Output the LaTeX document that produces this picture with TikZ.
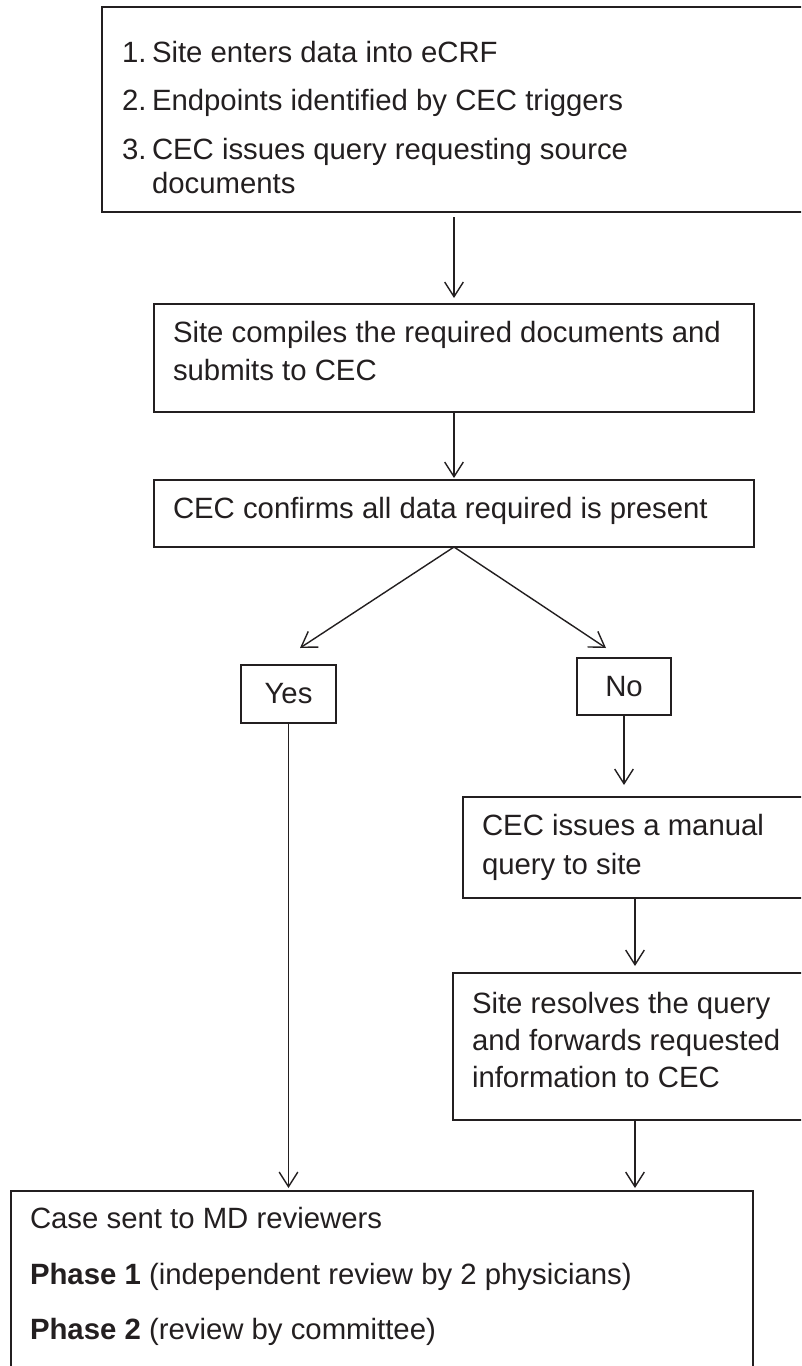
\documentclass[tikz,border=0pt]{standalone}
\usepackage{fontspec}
\setmainfont{Liberation Sans}
\usetikzlibrary{arrows.meta}
\definecolor{ink}{HTML}{231F20}
\begin{document}
\begin{tikzpicture}[x=0.75pt,y=-0.75pt,
  every node/.style={font=\fontsize{22}{28}\selectfont, text=ink, inner sep=0pt, outer sep=0pt},
  frame/.style={draw=ink, line width=1.1pt, anchor=north west, rectangle},
  txt/.style={anchor=base west},
  arr/.style={draw=ink, line width=1.05pt, -{Straight Barb[length=11pt,width=14pt,line width=1.05pt]}}]
\clip (0,0) rectangle (801,1366);
\useasboundingbox (0,0) rectangle (801,1366);
\fill[white] (0,0) rectangle (801,1366);

% boxes
\node[frame, minimum width=546pt, minimum height=153.75pt] (box1) at (102,7) {};
\node[frame, minimum width=450pt, minimum height=81pt] (box2) at (154,304) {};
\node[frame, minimum width=450pt, minimum height=50.25pt] (box3) at (154,480) {};
\node[frame, minimum width=71.25pt, minimum height=43.5pt] (yes) at (241,665) {Yes};
\node[frame, minimum width=70.5pt, minimum height=42.75pt] (no) at (577,658) {No};
\node[frame, minimum width=275.25pt, minimum height=75.75pt] (manual) at (463,797) {};
\node[frame, minimum width=282.75pt, minimum height=110.25pt] (resolve) at (453,973) {};
\node[frame, minimum width=556.5pt, minimum height=156.75pt] (bottom) at (11,1191) {};

% texts
\node[txt] (n1) at (122,63) {1.};
\node[txt] (l1) at (152,63) {Site enters data into eCRF};
\node[txt] (n2) at (122,111) {2.};
\node[txt] (l2) at (152,111) {Endpoints identified by CEC triggers};
\node[txt] (n3) at (122,160) {3.};
\node[txt] (l3) at (152,160) {CEC issues query requesting source};
\node[txt] (l3b) at (152,193) {documents};

\node[txt] (t2a) at (173,342) {Site compiles the required documents and};
\node[txt] (t2b) at (173,380) {submits to CEC};
\node[txt] (t3) at (173,518) {CEC confirms all data required is present};

\node[txt] (tma) at (482,835) {CEC issues a manual};
\node[txt] (tmb) at (482,874) {query to site};

\node[txt] (tra) at (472,1013) {Site resolves the query};
\node[txt] (trb) at (472,1050) {and forwards requested};
\node[txt] (trc) at (472,1087) {information to CEC};

\node[txt] (tba) at (30,1228) {Case sent to MD reviewers};
\node[txt] (tbb) at (30,1284) {\textbf{Phase 1} (independent review by 2 physicians)};
\node[txt] (tbc) at (30,1339) {\textbf{Phase 2} (review by committee)};

% connectors
\coordinate (yt) at (300,648);
\coordinate (nt) at (606,648);
\coordinate (rc) at (635,0);

\draw[arr, shorten <=3.75pt, shorten >=4.5pt] (box1.south -| box2.north) -- (box2.north);
\draw[arr, shorten >=1.5pt] (box2.south) -- (box3.north);
\draw[arr] (box3.south) -- (yt);
\draw[arr] (box3.south) -- (nt);
\draw[arr, shorten >=2.25pt] (yes.south) -- (yes.south |- bottom.north);
\draw[arr, shorten >=9pt] (no.south) -- (no.south |- manual.north);
\draw[arr, shorten >=5.25pt] (manual.south -| rc) -- (resolve.north -| rc);
\draw[arr, shorten >=2.25pt] (resolve.south -| rc) -- (bottom.north -| rc);
\end{tikzpicture}
\end{document}
